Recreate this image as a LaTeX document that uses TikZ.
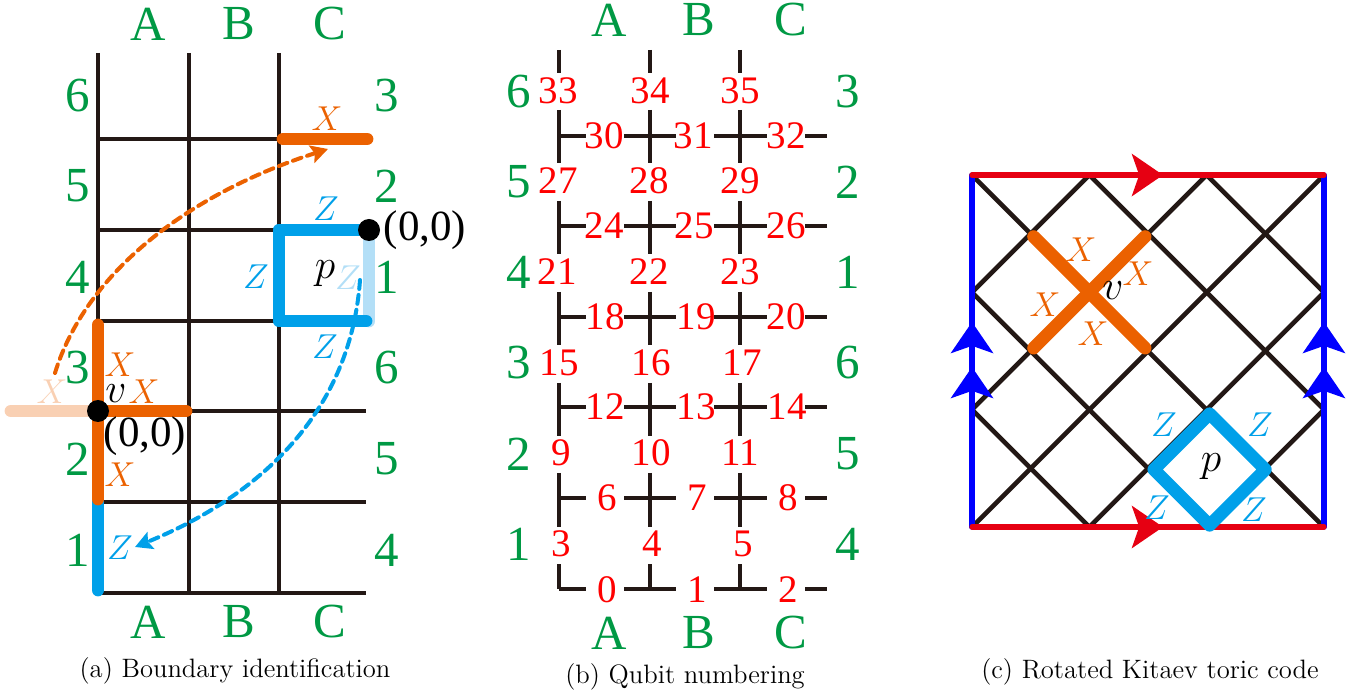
\documentclass[tikz,border=0pt]{standalone}
\usepackage{fontspec}
\newfontfamily\labelfont{Liberation Serif}
\usetikzlibrary{arrows.meta, calc}
\definecolor{latticeblack}{HTML}{231815}
\definecolor{opX}{HTML}{EB6100}
\definecolor{opZ}{HTML}{00A0E9}
\definecolor{opXfade}{HTML}{F9D0B3}
\definecolor{opZfade}{HTML}{B3DFF7}
\definecolor{edgegreen}{HTML}{009944}
\definecolor{edgered}{HTML}{E60012}
\tikzset{
	lattice/.style={line width=2.3pt, draw=latticeblack},
	thickop/.style={line width=6.4pt, line cap=round, line join=round},
	flowarrow/.style={line width=2pt, dash pattern=on 4.5pt off 3pt, line cap=round, -{Stealth[length=8.5pt, width=9pt, inset=1.5pt]}},
	edgearrow/.style={line width=2.7pt, -{Stealth[length=15.5pt, width=21pt, inset=3.6pt]}},
	greenlabel/.style={inner sep=0pt, text=edgegreen, font=\labelfont\fontsize{24.5}{24.5}\selectfont},
	qubitlabel/.style={inner sep=0pt, text=red, font=\labelfont\fontsize{19.5}{19.5}\selectfont},
	oplabel/.style={inner sep=0pt, font=\fontsize{17.28}{17.28}\selectfont},
	varlabel/.style={inner sep=0pt, font=\fontsize{20.74}{20.74}\selectfont},
	originlabel/.style={inner sep=0pt, font=\labelfont\fontsize{21.5}{21.5}\selectfont},
	caption/.style={inner sep=0pt, font=\fontsize{13.3}{13.3}\selectfont},
}
\begin{document}
\begin{tikzpicture}[x=0.5pt, y=-0.5pt]
	\useasboundingbox (0,0) rectangle (1364,694);
	\coordinate (Vleft) at (98,411);
	\coordinate (Pright) at (369,230);
	\coordinate (Xfrom) at (55,373);
	\coordinate (Xto) at (328,149);
	\coordinate (Zfrom) at (360,280);
	\coordinate (Zto) at (135,547);

	% 1. boundary panel: grid
	\foreach \px in {98,189,279} \draw[lattice] (\px,53) -- (\px,593);
	\foreach \py in {139,230,321,411,502,593} \draw[lattice] (98,\py) -- (366,\py);

	% 2. boundary panel: operators
	\draw[thickop, opX] (283,139) -- (367,139);
	\draw[thickop, opZfade] (369,230) -- (369,321);
	\draw[thickop, opZ] (366,230) -- (279,230) -- (279,321) -- (366,321);
	\draw[thickop, opXfade] (11,411) -- (Vleft);
	\draw[thickop, opZ] (98,502) -- (98,590);
	\draw[thickop, opX] (98,325) -- (98,499);
	\draw[thickop, opX] (Vleft) -- (186,411);
	\fill (Vleft) circle (5.5pt);
	\fill (Pright) circle (5.5pt);

	% 3. boundary panel: identification arrows
	\draw[flowarrow, opX] (Xfrom) .. controls (85,275) and (185,195) .. (Xto);
	\draw[flowarrow, opZ] (Zfrom) .. controls (350,420) and (250,500) .. (Zto);

	% 4. boundary panel: labels
	\foreach \lab/\px in {A/148,B/239,C/330} {
		\node[greenlabel] (a-top-\lab) at (\px,24) {\lab};
		\node[greenlabel] (a-bot-\lab) at (\px,622) {\lab};
	}
	\foreach \lab/\rlab/\py in {6/3/96,5/2/186,4/1/277,3/6/368,2/5/459,1/4/550} {
		\node[greenlabel] (a-left-\lab) at (78,\py) {\lab};
		\node[greenlabel] (a-right-\rlab) at (387,\py) {\rlab};
	}
	\foreach \nm/\px/\py in {xa/327/119,xb/120/365,xc/144/392,xd/120/475}
		\node[oplabel, text=opX] (\nm) at (\px,\py) {$X$};
	\node[oplabel, text=opXfade] (xfade) at (52,392) {$X$};
	\foreach \nm/\px/\py in {za/326/209,zb/256/277,zc/325/347,zd/120/548}
		\node[oplabel, text=opZ] (\nm) at (\px,\py) {$Z$};
	\node[oplabel, text=opZfade] (zfade) at (348,278) {$Z$};
	\node[varlabel] (pa) at (325,274) {$p$};
	\node[varlabel] (va) at (116,394) {$v$};
	\node[originlabel] (origin-a) at (145,436) {(0,0)};
	\node[originlabel] (origin-b) at (425,230) {(0,0)};
	\node[caption] (cap-a) at (235,671) {(a) Boundary identification};

	% 5. numbering panel: broken grid
	\foreach \py in {136,226,317,407,498,589} {
		\draw[lattice] (559,\py) -- (586,\py);
		\draw[lattice] (624,\py) -- (676,\py);
		\draw[lattice] (714,\py) -- (767,\py);
		\draw[lattice] (805,\py) -- (827,\py);
	}
	\foreach \px in {559,650,740} {
		\draw[lattice] (\px,50) -- (\px,73);
		\foreach \py/\qy in {110/163,201/254,292/345,383/436,473/527}
			\draw[lattice] (\px,\py) -- (\px,\qy);
	}
	\draw[lattice, line cap=square] (559,564) -- (559,589);
	\foreach \px in {650,740} \draw[lattice] (\px,564) -- (\px,589);

	% 6. numbering panel: labels
	\foreach \lab/\px in {A/609,B/699,C/791} {
		\node[greenlabel] (b-top-\lab) at (\px,20) {\lab};
		\node[greenlabel] (b-bot-\lab) at (\px,633) {\lab};
	}
	\foreach \lab/\rlab/\py in {6/3/92,5/2/182,4/1/272,3/6/363,2/5/454,1/4/544} {
		\node[greenlabel] (b-left-\lab) at (519,\py) {\lab};
		\node[greenlabel] (b-right-\rlab) at (848,\py) {\rlab};
	}
	\foreach \q/\px/\py in {33/558/91,34/650/91,35/740/91,27/558/181,28/649/181,29/740/181,
		21/557/272,22/649/272,23/740/272,15/559/363,16/651/363,17/742/363,
		9/561/453,10/651/453,11/740/453,3/561/544,4/652/544,5/743/544,
		30/604/136,31/693/136,32/786/136,24/604/226,25/694/226,26/786/226,
		18/605/317,19/696/317,20/786/317,12/605/407,13/696/407,14/787/407,
		6/607/498,7/697/498,8/788/498,0/607/590,1/697/590,2/788/590}
		\node[qubitlabel] (q\q) at (\px,\py) {\q};
	\node[caption] (cap-b) at (685,677) {(b) Qubit numbering};

	% 7. toric panel: rotated lattice
	\begin{scope}[shift={(972,527)}, x=29.33pt, y=29.33pt]
		\foreach \ax/\ay/\bx/\by in {0/6/6/0,2/6/6/2,4/6/6/4,0/4/4/0,0/2/2/0,0/0/6/6,2/0/6/4,4/0/6/2,0/2/4/6,0/4/2/6}
			\draw[lattice] (\ax,\ay) -- (\bx,\by);
		\coordinate (SW) at (0,0);
		\coordinate (SE) at (6,0);
		\coordinate (NW) at (0,6);
		\coordinate (NE) at (6,6);

		% 8. toric panel: blue edges first, red above
		\foreach \corner/\top in {SW/NW,SE/NE} {
			\draw[line width=2.7pt, blue, line cap=round] (\corner) -- (\top);
			\draw[edgearrow, blue] (\corner) -- ($(\corner)!0.4545!(\top)$);
			\draw[edgearrow, blue] (\corner) -- ($(\corner)!0.5824!(\top)$);
		}
		\foreach \lo/\hi in {SW/SE,NW/NE} {
			\draw[line width=2.7pt, edgered, line cap=round] (\lo) -- (\hi);
			\draw[edgearrow, edgered] (\lo) -- ($(\lo)!0.5426!(\hi)$);
		}

		% 9. toric panel: operators
		\draw[thickop, opX] (1.05,4.95) -- (2.95,3.05);
		\draw[thickop, opX] (1.05,3.05) -- (2.95,4.95);
		\draw[thickop, opZ] (4.05,1.93) -- (5,0.98) -- (4.05,0.03) -- (3.1,0.98) -- cycle;
	\end{scope}
	\foreach \nm/\px/\py in {xe/1081/250,xf/1138/274,xg/1045/305,xh/1093/334}
		\node[oplabel, text=opX] (\nm) at (\px,\py) {$X$};
	\foreach \nm/\px/\py in {ze/1164/425,zf/1260/425,zg/1157/508,zh/1254/510}
		\node[oplabel, text=opZ] (\nm) at (\px,\py) {$Z$};
	\node[varlabel] (vc) at (1113,291) {$v$};
	\node[varlabel] (pc) at (1211,467) {$p$};
	\node[caption] (cap-c) at (1150,672) {(c) Rotated Kitaev toric code};
\end{tikzpicture}
\end{document}
